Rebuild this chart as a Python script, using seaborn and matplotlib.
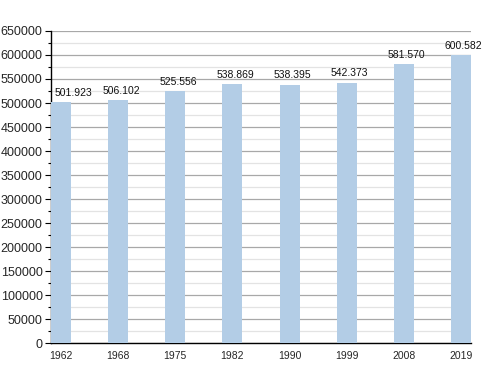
import numpy as np
import pandas as pd
import matplotlib
matplotlib.use("Agg")
import matplotlib.pyplot as plt
from matplotlib.ticker import MultipleLocator
import seaborn as sns

years = ["1962", "1968", "1975", "1982", "1990", "1999", "2008", "2019"]
population = [501923, 506102, 525556, 538869, 538395, 542373, 581570, 600582]
labels = ["501.923", "506.102", "525.556", "538.869", "538.395", "542.373", "581.570", "600.582"]

df = pd.DataFrame({"year": years, "pop": population})

sns.set_style("white")
plt.rcParams["font.family"] = ["Liberation Sans", "DejaVu Sans"]

fig = plt.figure(figsize=(5, 3.73), dpi=100)
ax = fig.add_axes([0.102, 0.080, 0.840, 0.837])

sns.barplot(data=df, x="year", y="pop", color="#b3cde6", saturation=1,
            width=0.35, linewidth=0, ax=ax, zorder=3)

ax.set_ylim(0, 650000)
ax.set_xlim(-0.175, 7.175)
ax.yaxis.set_major_locator(MultipleLocator(50000))
ax.yaxis.set_minor_locator(MultipleLocator(25000))
ax.grid(which="major", axis="y", color="#a8a8a8", linewidth=0.9, zorder=0)
ax.grid(which="minor", axis="y", color="#e3e3e3", linewidth=0.9, zorder=0)
ax.set_axisbelow(True)

for s in ["top", "right"]:
    ax.spines[s].set_visible(False)
ax.spines["left"].set_color("black")
ax.spines["bottom"].set_color("black")
ax.spines["left"].set_linewidth(1.0)
ax.spines["bottom"].set_linewidth(1.0)

ax.tick_params(axis="y", which="major", left=True, length=4, width=0.8,
               labelsize=9, pad=2, color="black")
ax.tick_params(axis="y", which="minor", left=True, length=2, width=0.8, color="black")
ax.tick_params(axis="x", bottom=False, labelsize=7.5, pad=2)

# etykiety nad słupkami, pierwsza lekko przesunięta od osi
for i, (v, t) in enumerate(zip(population, labels)):
    dx = 9 if i == 0 else 2
    ax.annotate(t, (i, v), xytext=(dx, 3), textcoords="offset points",
                ha="center", va="bottom", fontsize=7.5, color="#111111")

ax.set_xlabel("")
ax.set_ylabel("")

fig.savefig("out.png", dpi=100)
